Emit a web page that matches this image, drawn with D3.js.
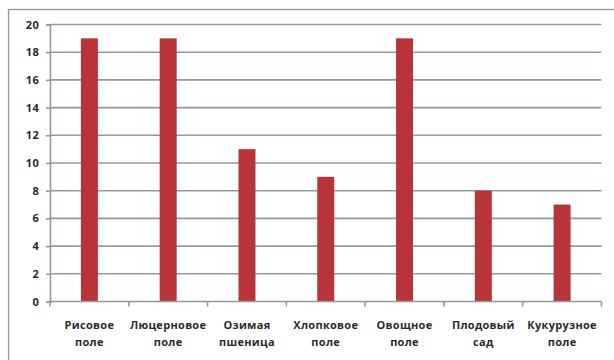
<!DOCTYPE html>
<html>
<head>
<meta charset="utf-8">
<script src="https://cdn.jsdelivr.net/npm/d3@7"></script>
<style>
  html, body { margin: 0; padding: 0; background: #fff; }
  svg { display: block; }
  .lbl { font-family: "Open Sans", "DejaVu Sans", sans-serif; font-size: 11px; font-weight: 700; letter-spacing: 0.3px; fill: #2a2a2a; }
</style>
</head>
<body>
<svg id="chart" width="614" height="360"></svg>
<script>
// Field types (two lines per label) and their counts
const categories = [
  ["Рисовое", "поле"],
  ["Люцерновое", "поле"],
  ["Озимая", "пшеница"],
  ["Хлопковое", "поле"],
  ["Овощное", "поле"],
  ["Плодовый", "сад"],
  ["Кукурузное", "поле"]
];
const values = [19, 19, 11, 9, 19, 8, 7];
const yTicks = [0, 2, 4, 6, 8, 10, 12, 14, 16, 18, 20];

const svg = d3.select("#chart");
const plotLeft = 50, plotRight = 601.5, plotTop = 24.5, plotBottom = 301.5;
const gridColor = "#8e9c9c";

// outer chart frame
svg.append("rect")
  .attr("x", 8.5).attr("y", 9.5).attr("width", 640).attr("height", 400)
  .attr("fill", "none").attr("stroke", gridColor).attr("stroke-width", 1.3);

const x = d3.scaleBand().domain(d3.range(categories.length)).range([plotLeft, plotRight]);
const y = d3.scaleLinear().domain([0, 20]).range([plotBottom, plotTop]);

// horizontal gridlines
svg.append("g").selectAll("line").data(yTicks.filter(d => d > 0)).join("line")
  .attr("x1", plotLeft).attr("x2", plotRight)
  .attr("y1", d => y(d)).attr("y2", d => y(d))
  .attr("stroke", gridColor).attr("stroke-width", 1.6);

// bars
svg.append("g").selectAll("rect").data(values).join("rect")
  .attr("x", (d, i) => x(i) + x.bandwidth() / 2 - 8.5)
  .attr("width", 17)
  .attr("y", d => y(d))
  .attr("height", d => y(0) - y(d))
  .attr("fill", "#b93438");

// y axis
const yAxis = svg.append("g").attr("transform", `translate(${plotLeft},0)`)
  .call(d3.axisLeft(y).tickValues(yTicks).tickSize(4).tickPadding(7).tickFormat(d3.format("d")));
yAxis.select(".domain").attr("stroke", gridColor).attr("stroke-width", 1.6);
yAxis.selectAll(".tick line").attr("stroke", gridColor).attr("stroke-width", 1.6);
yAxis.selectAll("text").attr("class", "lbl").attr("font-family", null).attr("font-size", null).attr("fill", null);

// x axis: baseline with ticks at category boundaries
const xg = svg.append("g");
xg.append("line").attr("x1", plotLeft).attr("x2", plotRight)
  .attr("y1", plotBottom).attr("y2", plotBottom)
  .attr("stroke", gridColor).attr("stroke-width", 1.6);
xg.selectAll("line.t").data(d3.range(categories.length + 1)).join("line")
  .attr("class", "t")
  .attr("x1", i => i < categories.length ? x(i) : plotRight)
  .attr("x2", i => i < categories.length ? x(i) : plotRight)
  .attr("y1", plotBottom).attr("y2", plotBottom + 5)
  .attr("stroke", gridColor).attr("stroke-width", 1.6);

// category labels
const lab = svg.append("g").selectAll("text").data(categories).join("text")
  .attr("class", "lbl")
  .attr("text-anchor", "middle")
  .attr("x", (d, i) => x(i) + x.bandwidth() / 2)
  .attr("y", 329);
lab.selectAll("tspan").data(d => d).join("tspan")
  .attr("x", function () { return this.parentNode.getAttribute("x"); })
  .attr("dy", (d, i) => i === 0 ? 0 : 17)
  .text(d => d);
</script>
</body>
</html>
